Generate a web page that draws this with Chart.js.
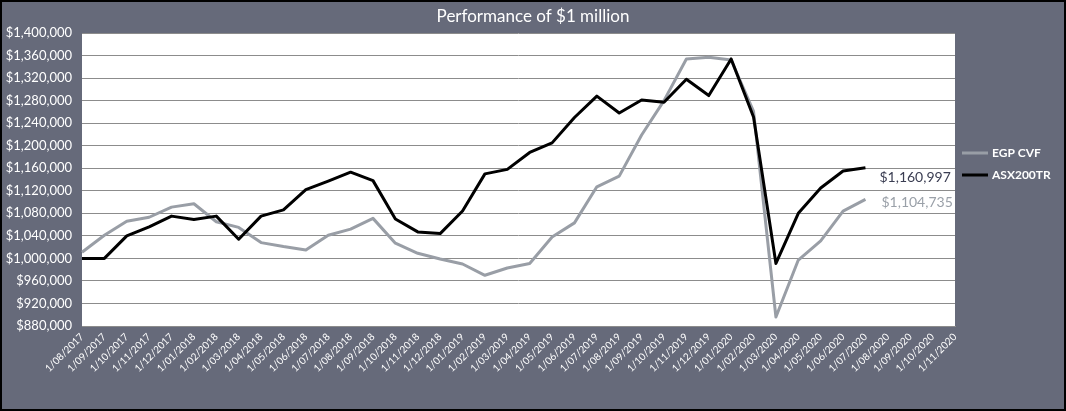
<!DOCTYPE html>
<html>
<head>
<meta charset="utf-8">
<script src="https://cdn.jsdelivr.net/npm/chart.js@4.4.1/dist/chart.umd.min.js"></script>
<style>
html,body{margin:0;padding:0;background:#666a7a;}
#wrap{width:1066px;height:411px;position:relative;}
canvas{display:block;}
</style>
</head>
<body>
<div id="wrap"><canvas id="c" width="1066" height="411"></canvas></div>
<script>
const chartTitle = 'Performance of $1 million';

const categories = [
  '1/08/2017','1/09/2017','1/10/2017','1/11/2017','1/12/2017',
  '1/01/2018','1/02/2018','1/03/2018','1/04/2018','1/05/2018','1/06/2018',
  '1/07/2018','1/08/2018','1/09/2018','1/10/2018','1/11/2018','1/12/2018',
  '1/01/2019','1/02/2019','1/03/2019','1/04/2019','1/05/2019','1/06/2019',
  '1/07/2019','1/08/2019','1/09/2019','1/10/2019','1/11/2019','1/12/2019',
  '1/01/2020','1/02/2020','1/03/2020','1/04/2020','1/05/2020','1/06/2020',
  '1/07/2020','1/08/2020','1/09/2020','1/10/2020','1/11/2020'
];

const egpCvf = [
  1011000, 1041000, 1066000, 1073000, 1091000,
  1097000, 1065000, 1055000, 1028000, 1021000, 1015000,
  1041000, 1052000, 1071000, 1027000, 1009000, 999000,
  990000, 970000, 983000, 991000, 1038000, 1063000,
  1127000, 1146000, 1219000, 1280000, 1354000, 1357000,
  1352000, 1261000, 896000, 997000, 1031000, 1084000,
  1104735, null, null, null, null
];

const asx200tr = [
  1000000, 1000000, 1040000, 1056000, 1075000,
  1069000, 1075000, 1034000, 1075000, 1086000, 1122000,
  1137000, 1153000, 1138000, 1070000, 1047000, 1044000,
  1084000, 1150000, 1158000, 1188000, 1205000, 1250000,
  1288000, 1258000, 1281000, 1277000, 1318000, 1289000,
  1354000, 1251000, 991000, 1080000, 1125000, 1155000,
  1160997, null, null, null, null
];

const yMin = 880000, yMax = 1400000, yStep = 40000;

const BG = '#666a7a';
const FONT = 'Lato, "Open Sans", sans-serif';

function fmtMoney(v){
  return '$' + Math.round(v).toLocaleString('en-US');
}

const decor = {
  id: 'decor',
  beforeDraw(chart){
    const {ctx, chartArea:a, width, height} = chart;
    ctx.save();
    ctx.fillStyle = BG;
    ctx.fillRect(0,0,width,height);
    ctx.fillStyle = '#ffffff';
    ctx.fillRect(a.left, a.top, a.right - a.left, a.bottom - a.top);
    ctx.restore();
  },
  afterDraw(chart){
    const {ctx, width, height} = chart;
    ctx.save();
    // title
    ctx.fillStyle = '#ffffff';
    ctx.font = '17px ' + FONT;
    ctx.textAlign = 'center';
    ctx.textBaseline = 'middle';
    ctx.fillText(chartTitle, 533, 17);
    // end-value labels
    const offs = [{dx:16, dy:3, color:'#9aa0a8'}, {dx:14, dy:10, color:'#3a3d52'}];
    chart.data.datasets.forEach((ds, i) => {
      const meta = chart.getDatasetMeta(i);
      let last = -1;
      ds.data.forEach((v, j) => { if (v !== null) last = j; });
      if (last < 0) return;
      const pt = meta.data[last];
      ctx.font = '14px ' + FONT;
      ctx.fillStyle = offs[i].color;
      ctx.textAlign = 'left';
      ctx.textBaseline = 'middle';
      ctx.fillText(fmtMoney(ds.data[last]), pt.x + offs[i].dx, pt.y + offs[i].dy);
    });
    // legend
    const lx = 962, ly = [153, 175];
    chart.data.datasets.forEach((ds, i) => {
      ctx.strokeStyle = ds.borderColor;
      ctx.lineWidth = 3;
      ctx.beginPath();
      ctx.moveTo(lx, ly[i]);
      ctx.lineTo(lx + 26, ly[i]);
      ctx.stroke();
      ctx.fillStyle = '#ffffff';
      ctx.font = 'bold 12px ' + FONT;
      ctx.textAlign = 'left';
      ctx.textBaseline = 'middle';
      ctx.fillText(ds.label, lx + 30, ly[i]);
    });
    // outer border
    ctx.strokeStyle = '#000000';
    ctx.lineWidth = 2;
    ctx.strokeRect(1, 1, width - 2, height - 2);
    ctx.restore();
  }
};

new Chart(document.getElementById('c'), {
  type: 'line',
  data: {
    labels: categories,
    datasets: [
      { label: 'EGP CVF', data: egpCvf, borderColor: '#999ea6', backgroundColor: '#999ea6',
        borderWidth: 3, pointRadius: 0, tension: 0, order: 1, borderJoinStyle: 'round', borderCapStyle: 'butt' },
      { label: 'ASX200TR', data: asx200tr, borderColor: '#000000', backgroundColor: '#000000',
        borderWidth: 3, pointRadius: 0, tension: 0, order: 0, borderJoinStyle: 'round', borderCapStyle: 'butt' }
    ]
  },
  options: {
    responsive: false,
    animation: false,
    devicePixelRatio: 1,
    layout: { padding: { top: 33, right: 111, bottom: 0, left: 0 } },
    plugins: {
      legend: { display: false },
      title: { display: false },
      tooltip: { enabled: false }
    },
    scales: {
      x: {
        offset: false,
        grid: { display: false, drawTicks: false },
        border: { display: true, color: '#8c8c8c', width: 1 },
        ticks: {
          autoSkip: false, maxRotation: 45, minRotation: 45,
          color: '#ffffff', font: { size: 10, family: FONT }, padding: 5
        },
        afterFit(scale){ scale.height = 85; }
      },
      y: {
        min: yMin, max: yMax,
        grid: { color: '#8c8c8c', lineWidth: 1, drawTicks: false },
        border: { display: false },
        ticks: {
          stepSize: yStep, color: '#ffffff', font: { size: 13, family: FONT }, padding: 10,
          callback: (v) => fmtMoney(v)
        },
        afterFit(scale){ scale.width = 82; }
      }
    }
  },
  plugins: [decor]
});
</script>
</body>
</html>
